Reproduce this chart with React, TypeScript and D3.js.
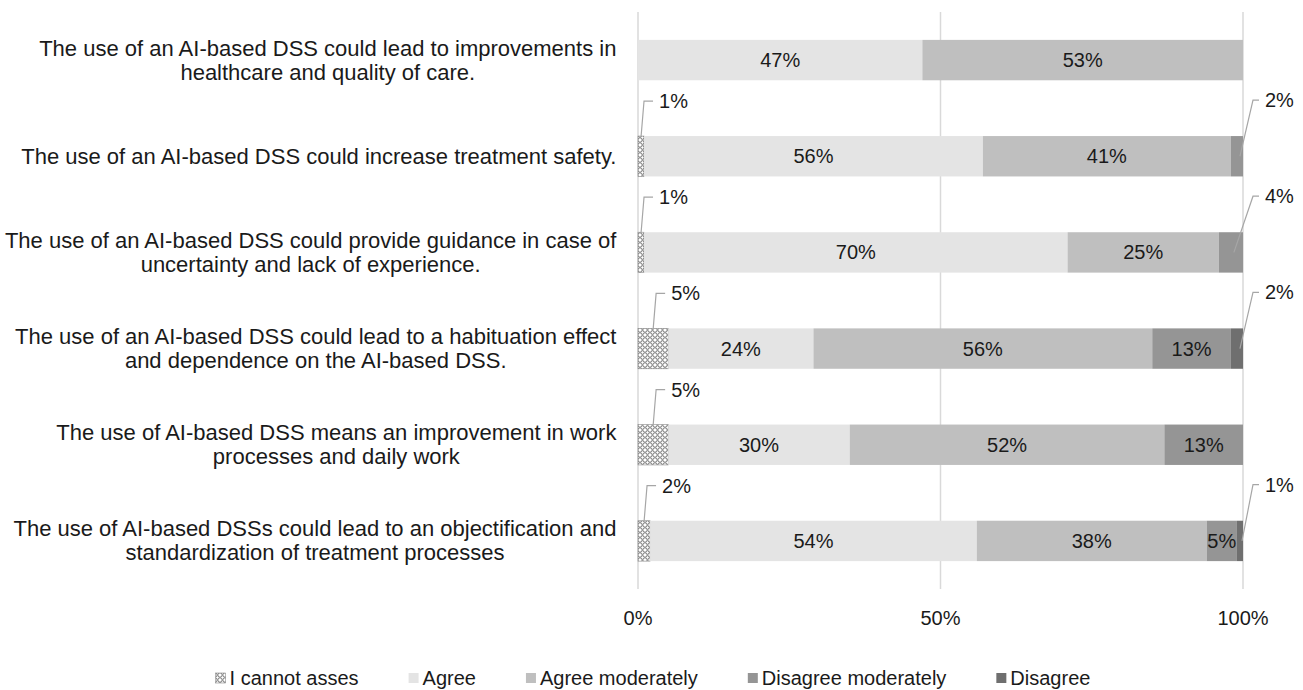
import React from 'react';
import * as d3 from 'd3';

const categories: string[][] = [
  ['The use of an AI-based DSS could lead to improvements in', 'healthcare and quality of care.'],
  ['The use of an AI-based DSS could increase treatment safety.'],
  ['The use of an AI-based DSS could provide guidance in case of', 'uncertainty and lack of experience.'],
  ['The use of an AI-based DSS could lead to a habituation effect', 'and dependence on the AI-based DSS.'],
  ['The use of AI-based DSS means an improvement in work', 'processes and daily work'],
  ['The use of AI-based DSSs could lead to an objectification and', 'standardization of treatment processes'],
];

const seriesNames = ['I cannot asses', 'Agree', 'Agree moderately', 'Disagree moderately', 'Disagree'];
const seriesKeys = ['cannot', 'agree', 'agreeMod', 'disagreeMod', 'disagree'];

const cannotAssess = [0, 1, 1, 5, 5, 2];
const agree = [47, 56, 70, 24, 30, 54];
const agreeModerately = [53, 41, 25, 56, 52, 38];
const disagreeModerately = [0, 2, 4, 13, 13, 5];
const disagree = [0, 0, 0, 2, 0, 1];

const xTicks = [0, 50, 100];
const xTickLabels = ['0%', '50%', '100%'];

const W = 1303;
const H = 690;
const FONT = '"Liberation Sans", Arial, sans-serif';
const colors = ['url(#hatch)', '#e4e4e4', '#bfbfbf', '#959595', '#6f6f6f'];
const TEXT = '#1a1a1a';

let ctx: CanvasRenderingContext2D | null = null;
function measure(text: string, size: number): number {
  if (!ctx) ctx = document.createElement('canvas').getContext('2d');
  if (!ctx) return text.length * size * 0.5;
  ctx.font = `${size}px "Liberation Sans", Arial, sans-serif`;
  return ctx.measureText(text).width;
}

export default function App() {
  const rows = categories.map((_, i) => ({
    cannot: cannotAssess[i],
    agree: agree[i],
    agreeMod: agreeModerately[i],
    disagreeMod: disagreeModerately[i],
    disagree: disagree[i],
  }));
  const stack = d3.stack<any>().keys(seriesKeys);
  const stacked = stack(rows);

  const x = d3.scaleLinear().domain([0, 100]).range([638, 1243]);
  const y = d3.scaleBand<number>().domain(d3.range(categories.length)).range([12, 589]).paddingInner(0.58).paddingOuter(0.29);
  const bw = y.bandwidth();

  const catSize = 22;
  const catRight = 617;
  const lineH = 24;

  const labSize = 20;

  // legend layout
  const legSize = 20;
  const legGap = 50;
  const sq = 10;
  const itemWidths = seriesNames.map((n) => sq + 4 + measure(n, legSize));
  const legTotal = d3.sum(itemWidths) + legGap * (seriesNames.length - 1);
  let lx = 653 - legTotal / 2;
  const legX = itemWidths.map((w) => {
    const p = lx;
    lx += w + legGap;
    return p;
  });
  const legY = 678;

  const marks: React.ReactNode[] = [];
  const labels: React.ReactNode[] = [];
  stacked.forEach((s, si) => {
    s.forEach((d, ri) => {
      const v = d[1] - d[0];
      if (v <= 0) return;
      const x0 = x(d[0]);
      const x1 = x(d[1]);
      const top = y(ri)!;
      marks.push(
        <rect key={`r${si}-${ri}`} x={x0} y={top} width={x1 - x0} height={bw} fill={colors[si]}
          stroke={si === 0 ? '#8a8a8a' : 'none'} strokeWidth={si === 0 ? 0.6 : 0} />
      );
      const cx = (x0 + x1) / 2;
      const txt = `${v}%`;
      if (si === 0) {
        const ty = top - 35;
        labels.push(
          <g key={`l${si}-${ri}`}>
            <polyline points={`${cx + 12},${ty} ${cx + 3},${ty} ${cx},${top + 1}`} fill="none" stroke="#a6a6a6" strokeWidth={1.2} />
            <text x={cx + 18} y={ty} dominantBaseline="central" fontSize={labSize} fill={TEXT}>{txt}</text>
          </g>
        );
      } else if (v < 5) {
        const ty = top - 36;
        const tx = x(100);
        labels.push(
          <g key={`l${si}-${ri}`}>
            <polyline points={`${tx + 16},${ty} ${tx + 10},${ty} ${Math.min(cx + 3, tx - 1)},${top + bw / 2}`} fill="none" stroke="#a6a6a6" strokeWidth={1.2} />
            <text x={tx + 22} y={ty} dominantBaseline="central" fontSize={labSize} fill={TEXT}>{txt}</text>
          </g>
        );
      } else {
        labels.push(
          <text key={`l${si}-${ri}`} x={cx} y={top + bw / 2} textAnchor="middle" dominantBaseline="central" fontSize={labSize} fill={TEXT}>{txt}</text>
        );
      }
    });
  });

  return (
    <svg width={W} height={H} style={{ position: 'absolute', left: 0, top: 0, background: '#fff' }} fontFamily={FONT}>
      <defs>
        <pattern id="hatch" width={5} height={5} patternUnits="userSpaceOnUse">
          <rect width={5} height={5} fill="#ffffff" />
          <circle cx={2.5} cy={2.5} r={1.8} fill="none" stroke="#555" strokeWidth={0.9} />
        </pattern>
      </defs>
      <rect width={W} height={H} fill="#fff" />
      {xTicks.map((t, i) => (
        <g key={`t${i}`}>
          <line x1={x(t)} x2={x(t)} y1={12} y2={589} stroke="#d9d9d9" strokeWidth={1.5} />
          <text x={x(t)} y={618} textAnchor="middle" dominantBaseline="central" fontSize={20} fill={TEXT}>{xTickLabels[i]}</text>
        </g>
      ))}
      {marks}
      {labels}
      {categories.map((lines, i) => {
        const maxW = d3.max(lines, (l) => measure(l, catSize))!;
        const cx = catRight - maxW / 2;
        const cy = y(i)! + bw / 2;
        const startY = cy - ((lines.length - 1) * lineH) / 2;
        return (
          <text key={`c${i}`} textAnchor="middle" fontSize={catSize} fill={TEXT}>
            {lines.map((l, j) => (
              <tspan key={j} x={cx} y={startY + j * lineH} dominantBaseline="central">{l}</tspan>
            ))}
          </text>
        );
      })}
      {seriesNames.map((n, i) => (
        <g key={`lg${i}`}>
          <rect x={legX[i]} y={legY - sq / 2} width={sq} height={sq} fill={colors[i]} stroke={i === 0 ? '#8a8a8a' : 'none'} strokeWidth={0.6} />
          <text x={legX[i] + sq + 4} y={legY} dominantBaseline="central" fontSize={legSize} fill={TEXT}>{n}</text>
        </g>
      ))}
    </svg>
  );
}
